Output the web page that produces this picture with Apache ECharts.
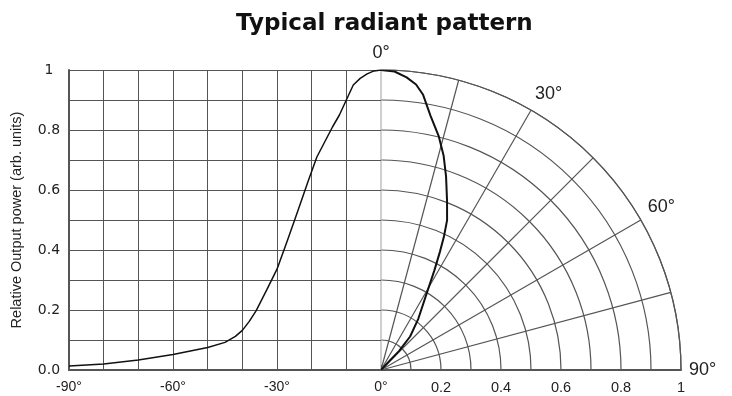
<!DOCTYPE html>
<html lang="en">
<head>
<meta charset="utf-8">
<title>Typical radiant pattern</title>
<style>
  html, body { margin: 0; padding: 0; background: #fff; }
  #main { width: 732px; height: 396px; }
</style>
</head>
<body>
<div id="main"></div>
<script src="https://cdn.jsdelivr.net/npm/echarts@6/dist/echarts.min.js"></script>
<script>
// left half: relative output power vs. emission angle (deg)
var cartAngles = [-90, -80, -70, -60, -50, -45, -42, -40, -38, -36, -33, -30, -27, -24, -21, -18.5, -14, -12, -10, -8, -6, -4, -2, 0];
var cartPower  = [0.013, 0.02, 0.033, 0.052, 0.075, 0.092, 0.112, 0.132, 0.162, 0.198, 0.266, 0.336, 0.432, 0.53, 0.63, 0.71, 0.81, 0.85, 0.9, 0.95, 0.972, 0.987, 0.997, 1.0];

// right half: the same pattern drawn on the polar quarter
var polarAngles = [0, 2.6, 5, 7, 8.7, 11, 13.9, 16.3, 18.6, 21.3, 23.8, 25.3, 26.5, 28.2, 31, 36, 41, 43.5, 43, 45];
var polarPower  = [1.0, 0.996, 0.979, 0.959, 0.928, 0.864, 0.802, 0.744, 0.68, 0.606, 0.546, 0.49, 0.44, 0.376, 0.293, 0.212, 0.148, 0.088, 0.033, 0];

// tick labels that are printed
var xTickLabels = [-90, -60, -30, 0];
var yTickLabels = [0, 0.2, 0.4, 0.6, 0.8, 1];
var angleTickLabels = [0, 30, 60, 90];
var radiusTickLabels = [0.2, 0.4, 0.6, 0.8, 1];

var CX = 381, CY = 370, R = 300;
var GRID_COLOR = '#555';
var ZERO_COLOR = '#b0b0b0';
var TEXT_COLOR = '#222';

function has(list, v) {
    for (var i = 0; i < list.length; i++) {
        if (Math.abs(list[i] - v) < 1e-6) return true;
    }
    return false;
}

function zip(a, b) {
    var out = [];
    for (var i = 0; i < a.length; i++) out.push([a[i], b[i]]);
    return out;
}

// split line colours, the 0 deg line is drawn light grey
function lineColors(count, lightIndex) {
    var c = [];
    for (var i = 0; i < count; i++) c.push(i === lightIndex ? ZERO_COLOR : GRID_COLOR);
    return c;
}

var chart = echarts.init(document.getElementById('main'));

var option = {
    animation: false,
    backgroundColor: '#fff',
    title: {
        text: 'Typical radiant pattern',
        left: 231,
        top: 8,
        textStyle: {
            fontFamily: 'DejaVu Sans',
            fontWeight: 'bold',
            fontSize: 23,
            color: '#111'
        }
    },
    grid: {
        left: CX - 312,
        top: CY - R,
        width: 312,
        height: R,
        show: false
    },
    xAxis: {
        type: 'value',
        min: -90,
        max: 0,
        interval: 10,
        axisLine: { onZero: false, lineStyle: { color: GRID_COLOR, width: 2 } },
        axisTick: { inside: true, length: 5, lineStyle: { color: GRID_COLOR } },
        splitLine: { show: true, showMaxLine: false, lineStyle: { color: GRID_COLOR, width: 1 } },
        axisLabel: {
            color: TEXT_COLOR,
            fontFamily: 'Liberation Sans',
            fontSize: 14,
            margin: 10,
            formatter: function (v) {
                return has(xTickLabels, v) ? v + '°' : '';
            }
        }
    },
    yAxis: {
        type: 'value',
        min: 0,
        max: 1,
        interval: 0.1,
        name: 'Relative Output power (arb. units)',
        nameLocation: 'middle',
        nameRotate: 90,
        nameGap: 45,
        nameTextStyle: {
            color: TEXT_COLOR,
            fontFamily: 'Liberation Sans',
            fontSize: 14.5
        },
        axisLine: { show: true, onZero: false, lineStyle: { color: GRID_COLOR, width: 2 } },
        axisTick: { show: true, inside: true, length: 5, lineStyle: { color: GRID_COLOR } },
        splitLine: { show: true, lineStyle: { color: GRID_COLOR, width: 1 } },
        axisLabel: {
            color: TEXT_COLOR,
            fontFamily: 'DejaVu Sans',
            fontSize: 14,
            align: 'center',
            margin: 20,
            formatter: function (v) {
                if (!has(yTickLabels, v)) return '';
                if (v === 0) return '0.0';
                if (Math.abs(v - 1) < 1e-6) return '1';
                return v.toFixed(1);
            }
        }
    },
    polar: [
        { center: [CX, CY], radius: R },
        { center: [CX, CY], radius: R }
    ],
    angleAxis: [
        {
            polarIndex: 0,
            type: 'value',
            min: 0,
            max: 90,
            interval: 15,
            startAngle: 90,
            endAngle: 0,
            axisLine: { lineStyle: { color: GRID_COLOR, width: 1.2 } },
            axisTick: { show: false },
            splitLine: { show: true, lineStyle: { color: lineColors(7, 0), width: 1.2 } },
            axisLabel: {
                color: TEXT_COLOR,
                fontFamily: 'Liberation Sans',
                fontSize: 18,
                margin: 8,
                formatter: function (v) {
                    return has(angleTickLabels, v) ? v + '°' : '';
                }
            }
        },
        {
            polarIndex: 1,
            type: 'value',
            min: 0,
            max: 90,
            startAngle: 0,
            endAngle: 90,
            show: false
        }
    ],
    radiusAxis: [
        {
            polarIndex: 0,
            type: 'value',
            min: 0,
            max: 1,
            interval: 0.1,
            axisLine: { show: false },
            axisTick: { show: false },
            axisLabel: { show: false },
            splitLine: { show: true, lineStyle: { color: GRID_COLOR, width: 1.2 } }
        },
        {
            polarIndex: 1,
            type: 'value',
            min: 0,
            max: 1,
            interval: 0.2,
            axisLine: { show: true, lineStyle: { color: GRID_COLOR, width: 2 } },
            axisTick: { show: false },
            splitLine: { show: false },
            axisLabel: {
                color: TEXT_COLOR,
                fontFamily: 'Liberation Sans',
                fontSize: 14.5,
                margin: -10,
                verticalAlign: 'top',
                formatter: function (v) {
                    if (!has(radiusTickLabels, v)) return '';
                    return Math.abs(v - 1) < 1e-6 ? '1' : v.toFixed(1);
                }
            }
        }
    ],
    series: [
        {
            type: 'line',
            xAxisIndex: 0,
            yAxisIndex: 0,
            data: zip(cartAngles, cartPower),
            showSymbol: false,
            lineStyle: { color: '#111', width: 1.5 },
            z: 5
        },
        {
            type: 'line',
            coordinateSystem: 'polar',
            polarIndex: 0,
            data: zip(polarPower, polarAngles),
            showSymbol: false,
            lineStyle: { color: '#111', width: 2 },
            z: 5
        }
    ]
};

chart.setOption(option);
</script>
</body>
</html>
